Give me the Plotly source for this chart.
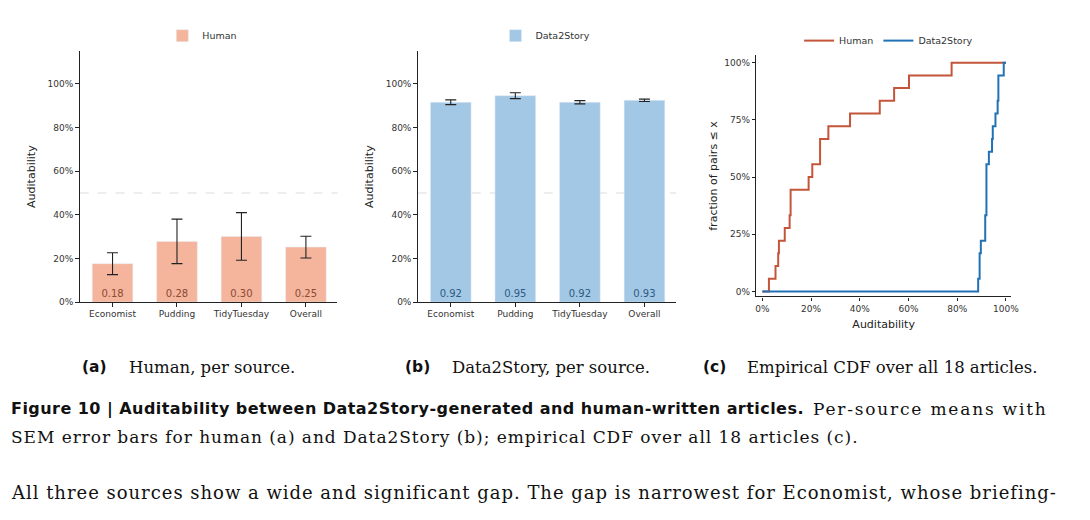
import plotly.graph_objects as go

# ---------------- data ----------------
sources = ["Economist", "Pudding", "TidyTuesday", "Overall"]
human_mean = [0.176, 0.278, 0.301, 0.252]
human_sem = [0.050, 0.102, 0.109, 0.050]
d2s_mean = [0.916, 0.946, 0.916, 0.925]
d2s_sem = [0.011, 0.0135, 0.0075, 0.0055]

human_scores = [0.027, 0.054, 0.065, 0.068, 0.092, 0.112, 0.116, 0.116, 0.190,
                0.205, 0.237, 0.237, 0.271, 0.360, 0.482, 0.541, 0.602, 0.777]
d2s_scores = [0.886, 0.892, 0.892, 0.897, 0.915, 0.915, 0.920, 0.920, 0.920,
              0.920, 0.930, 0.943, 0.946, 0.957, 0.966, 0.969, 0.969, 0.991]

bar_ticks = [0, 0.2, 0.4, 0.6, 0.8, 1.0]
bar_ticklabels = ["0%", "20%", "40%", "60%", "80%", "100%"]
cdf_yticks = [0, 0.25, 0.5, 0.75, 1.0]
cdf_yticklabels = ["0%", "25%", "50%", "75%", "100%"]
cdf_xticks = [0, 0.2, 0.4, 0.6, 0.8, 1.0]
cdf_xticklabels = ["0%", "20%", "40%", "60%", "80%", "100%"]

# ---------------- style ----------------
W, H = 1090, 520
HUMAN_BAR = "#F4B59C"
D2S_BAR = "#A2C8E6"
HUMAN_LINE = "#C4553A"
D2S_LINE = "#2171B5"
AX = "#222222"
TICKC = "#333333"
FONT = "DejaVu Sans"
SERIF = "DejaVu Serif"


def px(x):
    return x / W


def py(y):
    return 1 - y / H


def ecdf(vals):
    s = sorted(vals)
    n = len(s)
    xs = [0.0] + s + [1.0]
    ys = [0.0] + [(i + 1) / n for i in range(n)] + [1.0]
    return xs, ys


fig = go.Figure()

fig.add_trace(go.Bar(
    x=sources, y=human_mean, name="Human", marker_color=HUMAN_BAR, width=0.63,
    error_y=dict(type="data", array=human_sem, color=AX, thickness=1.1, width=5.5),
    text=[f"{v:.2f}" for v in human_mean], textposition="inside",
    insidetextanchor="start", textfont=dict(family=FONT, size=10, color="#8B4A36"),
    xaxis="x", yaxis="y", legend="legend", showlegend=True, hoverinfo="skip"))

fig.add_trace(go.Bar(
    x=sources, y=d2s_mean, name="Data2Story", marker_color=D2S_BAR, width=0.63,
    error_y=dict(type="data", array=d2s_sem, color=AX, thickness=1.1, width=5.5),
    text=[f"{v:.2f}" for v in d2s_mean], textposition="inside",
    insidetextanchor="start", textfont=dict(family=FONT, size=10, color="#2F5A80"),
    xaxis="x2", yaxis="y2", legend="legend2", showlegend=True, hoverinfo="skip"))

hx, hy = ecdf(human_scores)
dx, dy = ecdf(d2s_scores)
fig.add_trace(go.Scatter(x=hx, y=hy, mode="lines", line=dict(color=HUMAN_LINE, width=2, shape="hv"),
                         name="Human", xaxis="x3", yaxis="y3", legend="legend3", showlegend=True))
fig.add_trace(go.Scatter(x=dx, y=dy, mode="lines", line=dict(color=D2S_LINE, width=2, shape="hv"),
                         name="Data2Story", xaxis="x3", yaxis="y3", legend="legend3", showlegend=True))

yb = [py(305), py(51.7)]
common = dict(showline=True, linecolor=AX, linewidth=1.2, ticks="outside", ticklen=3.5,
              tickcolor=AX, tickwidth=1, tickfont=dict(family=FONT, size=9, color=TICKC),
              showgrid=False, zeroline=False, mirror=False)
ytitle = dict(text="Auditability", font=dict(family=FONT, size=11, color=AX), standoff=9)

layout_axes = dict(
    xaxis=dict(domain=[px(79.3), px(339.3)], range=[-0.51, 3.49], anchor="y", **common),
    yaxis=dict(domain=yb, range=[0, 1.15], anchor="x", tickvals=bar_ticks,
               ticktext=bar_ticklabels, title=ytitle, **common),
    xaxis2=dict(domain=[px(420.3), px(680.7)], range=[-0.51, 3.49], anchor="y2", **common),
    yaxis2=dict(domain=yb, range=[0, 1.15], anchor="x2", tickvals=bar_ticks,
                ticktext=bar_ticklabels, title=ytitle, **common),
    xaxis3=dict(domain=[px(761.7), px(1018.3)], range=[-0.0244, 1.0204], anchor="y3",
                tickvals=cdf_xticks, ticktext=cdf_xticklabels,
                title=dict(text="Auditability", font=dict(family=FONT, size=11, color=AX), standoff=7),
                **common),
    yaxis3=dict(domain=[py(299.3), py(56)], range=[-0.0216, 1.0316], anchor="x3",
                tickvals=cdf_yticks, ticktext=cdf_yticklabels,
                title=dict(text="fraction of pairs ≤ x", font=dict(family=FONT, size=11, color=AX), standoff=4),
                **common),
)

legfont = dict(family=FONT, size=9.5, color=TICKC)
fig.update_layout(
    width=W, height=H, margin=dict(l=0, r=0, t=0, b=0),
    paper_bgcolor="white", plot_bgcolor="white", bargap=0.37,
    legend=dict(x=px(203), y=py(36), xanchor="center", yanchor="middle", orientation="h",
                font=legfont, bgcolor="rgba(0,0,0,0)"),
    legend2=dict(x=px(549), y=py(36), xanchor="center", yanchor="middle", orientation="h",
                 font=legfont, bgcolor="rgba(0,0,0,0)"),
    legend3=dict(x=px(895), y=py(41), xanchor="center", yanchor="middle", orientation="h",
                 font=legfont, bgcolor="rgba(0,0,0,0)"),
    **layout_axes,
)

# reference line at 50%
for xr, yr in [("x domain", "y"), ("x2 domain", "y2")]:
    fig.add_shape(type="line", xref=xr, yref=yr, x0=0, x1=1, y0=0.5, y1=0.5,
                  line=dict(color="#DDDDDD", width=1, dash="dash"), layer="below")


# ---------------- captions ----------------
def note(x, y, text, family, size, anchor="left", bold=False, spacing=0.0):
    style = f"letter-spacing:{spacing}px"
    if bold:
        text = f"<b>{text}</b>"
    fig.add_annotation(x=px(x), y=py(y), xref="paper", yref="paper",
                       text=f"<span style='{style}'>{text}</span>", showarrow=False,
                       xanchor=anchor, yanchor="middle",
                       font=dict(family=family, size=size, color="#111111"))


note(80, 371, "(a)", FONT, 15.5, bold=True)
note(127, 371, "Human, per source.", SERIF, 16.5)
note(405, 371, "(b)", FONT, 15.5, bold=True)
note(453, 371, "Data2Story, per source.", SERIF, 16.5)
note(706, 371, "(c)", FONT, 15.5, bold=True)
note(750, 371, "Empirical CDF over all 18 articles.", SERIF, 16.5)

note(8, 413, "Figure 10 | Auditability between Data2Story-generated and human-written articles.",
     FONT, 16, bold=True, spacing=0.45)
note(817, 413, "Per-source means with", SERIF, 17, anchor="left", spacing=1.8)
note(8, 441, "SEM error bars for human (a) and Data2Story (b); empirical CDF over all 18 articles (c).",
     SERIF, 17, spacing=0.94)
note(8, 497, "All three sources show a wide and significant gap. The gap is narrowest for Economist, whose briefing-",
     SERIF, 18, spacing=0.98)

fig.write_html("out.html")
